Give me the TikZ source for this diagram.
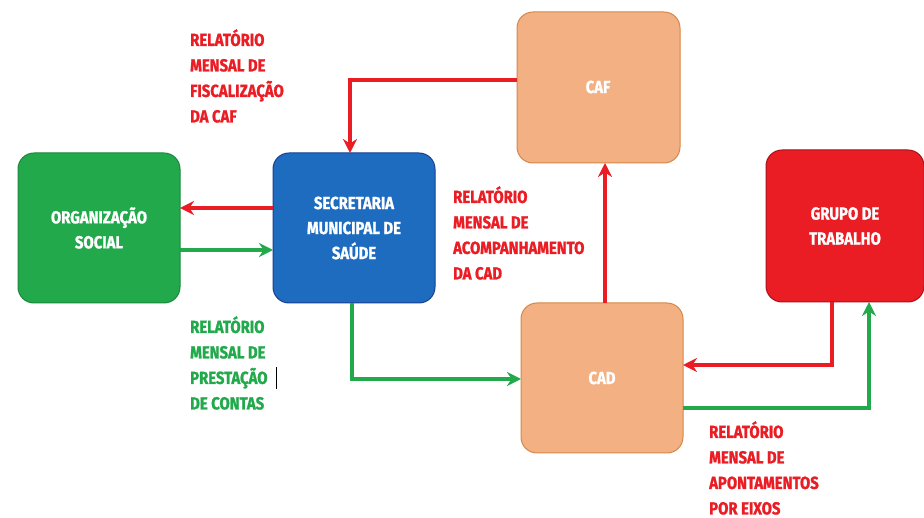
\documentclass[tikz,border=0pt]{standalone}
\usepackage{fontspec}
\setmainfont{Fira Sans}
\newfontfamily\lblfont[FakeStretch=0.85,BoldFeatures={FakeBold=1.2}]{Fira Sans}
\usetikzlibrary{arrows.meta}
\definecolor{cred}{HTML}{EA1D25}
\definecolor{cgreen}{HTML}{22A94B}
\definecolor{cblue}{HTML}{1D6CC0}
\definecolor{cblueb}{HTML}{1B3E90}
\definecolor{corange}{HTML}{F2B083}
\definecolor{coranb}{HTML}{D58747}
\definecolor{credb}{HTML}{A5121A}
\begin{document}
\begin{tikzpicture}[x=1pt,y=-1pt,
  box/.style={rounded corners=16pt, line width=1pt, text=white,
    font=\lblfont\bfseries\fontsize{17.5}{25}\selectfont, align=center},
  lbl/.style={font=\lblfont\bfseries\fontsize{17.5}{25.5}\selectfont, align=left, anchor=north west, inner sep=0pt},
  rarr/.style={draw=cred, line width=4pt, -{Stealth[length=14pt,width=14pt]}},
  garr/.style={draw=cgreen, line width=4pt, -{Stealth[length=14pt,width=14pt]}}]
\useasboundingbox (0,0) rectangle (924,518);
\fill[white] (0,0) rectangle (924,518);

% boxes
\draw[box, fill=cgreen, draw=cgreen!80!black] (18,153) rectangle (180,303);
\node[box] (os) at (99,228) {ORGANIZAÇÃO\\SOCIAL};
\draw[box, fill=cblue, draw=cblueb] (273,153) rectangle (435,303);
\node[box] (sms) at (354,228) {SECRETARIA\\MUNICIPAL DE\\SAÚDE};
\draw[box, fill=corange, draw=coranb] (517,12) rectangle (680,163);
\node[box] (caf) at (598,87) {CAF};
\draw[box, fill=corange, draw=coranb] (521,303) rectangle (683,453);
\node[box] (cad) at (602,378) {CAD};
\draw[box, fill=cred, draw=credb] (766,150) rectangle (924,302);
\node[box] (gt) at (845,226) {GRUPO DE\\TRABALHO};

% anchor coordinates on box borders
\coordinate (osR1) at (180,208);
\coordinate (osR2) at (180,250);
\coordinate (smsL1) at (273,208);
\coordinate (smsL2) at (273,250);
\coordinate (smsT) at (350,153);
\coordinate (smsB) at (352,303);
\coordinate (cafL) at (517,80);
\coordinate (cafB) at (605,163);
\coordinate (cadT) at (605,303);
\coordinate (cadL) at (521,379);
\coordinate (cadR1) at (683,365);
\coordinate (cadR2) at (683,408);
\coordinate (gtB1) at (832,302);
\coordinate (gtB2) at (869,302);

% connectors
\draw[rarr] (smsL1) -- (osR1);
\draw[garr] (osR2) -- (smsL2);
\draw[rarr] (cafL) -| (smsT);
\draw[garr] (smsB) |- (cadL);
\draw[rarr] (cadT) -- (cafB);
\draw[rarr] (gtB1) |- (cadR1);
\draw[garr] (cadR2) -| (gtB2);

% labels
\node[lbl, text=cred] (l1) at (190,29) {RELATÓRIO\\MENSAL DE\\FISCALIZAÇÃO\\DA CAF};
\node[lbl, text=cred] (l2) at (453,186) {RELATÓRIO\\MENSAL DE\\ACOMPANHAMENTO\\DA CAD};
\node[lbl, text=cgreen] (l3) at (190,316) {RELATÓRIO\\MENSAL DE\\PRESTAÇÃO\\DE CONTAS};
\node[lbl, text=cred] (l4) at (709,421) {RELATÓRIO\\MENSAL DE\\APONTAMENTOS\\POR EIXOS};
\draw[black, line width=1pt] (276,367) -- (276,389);
\end{tikzpicture}
\end{document}
